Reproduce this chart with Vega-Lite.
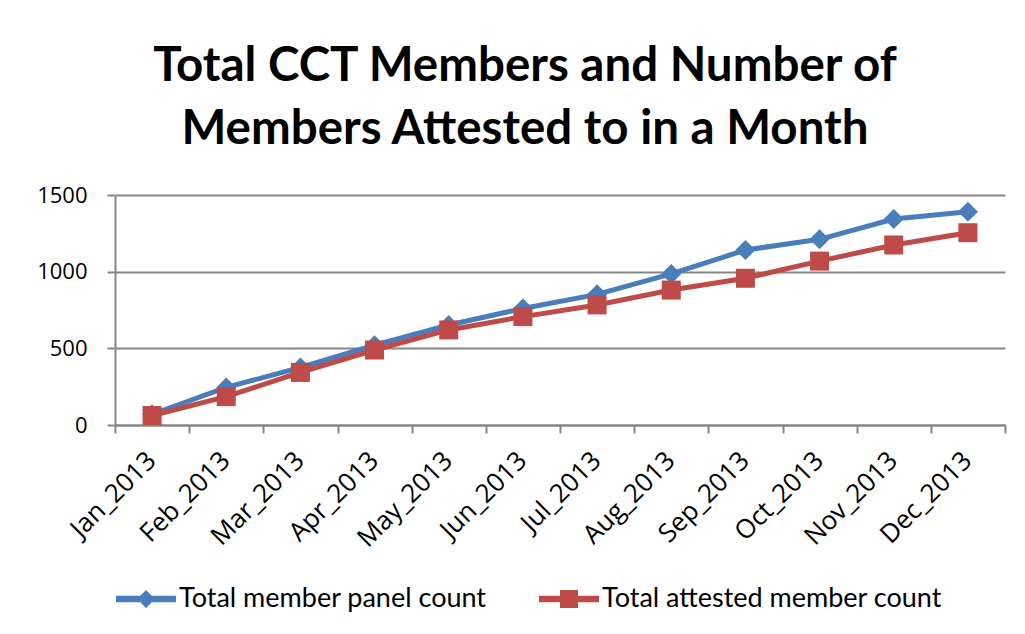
{
  "$schema": "https://vega.github.io/schema/vega-lite/v6.json",
  "width": 890,
  "height": 230,
  "autosize": {"type": "none"},
  "padding": {"left": 115, "top": 195, "right": 20, "bottom": 209},
  "background": "white",
  "title": {
    "text": ["Total CCT Members and Number of", "Members Attested to in a Month"],
    "font": "Lato",
    "fontSize": 47.5,
    "fontWeight": "bold",
    "lineHeight": 63,
    "color": "black",
    "anchor": "middle",
    "dx": -35,
    "offset": 31
  },
  "config": {
    "view": {"stroke": null},
    "axis": {
      "domainColor": "#868686",
      "domainWidth": 2,
      "gridColor": "#868686",
      "gridWidth": 2,
      "tickColor": "#868686",
      "tickWidth": 2,
      "tickSize": 8,
      "labelColor": "black",
      "labelFont": "Open Sans",
      "labelFontSize": 22,
      "title": null
    }
  },
  "data": {
    "values": [
      {"month": "Jan_2013", "series": "Total member panel count", "count": 70},
      {"month": "Feb_2013", "series": "Total member panel count", "count": 245},
      {"month": "Mar_2013", "series": "Total member panel count", "count": 375},
      {"month": "Apr_2013", "series": "Total member panel count", "count": 520},
      {"month": "May_2013", "series": "Total member panel count", "count": 652},
      {"month": "Jun_2013", "series": "Total member panel count", "count": 760},
      {"month": "Jul_2013", "series": "Total member panel count", "count": 852},
      {"month": "Aug_2013", "series": "Total member panel count", "count": 985},
      {"month": "Sep_2013", "series": "Total member panel count", "count": 1141},
      {"month": "Oct_2013", "series": "Total member panel count", "count": 1211},
      {"month": "Nov_2013", "series": "Total member panel count", "count": 1343},
      {"month": "Dec_2013", "series": "Total member panel count", "count": 1391},
      {"month": "Jan_2013", "series": "Total attested member count", "count": 62},
      {"month": "Feb_2013", "series": "Total attested member count", "count": 185},
      {"month": "Mar_2013", "series": "Total attested member count", "count": 343},
      {"month": "Apr_2013", "series": "Total attested member count", "count": 489},
      {"month": "May_2013", "series": "Total attested member count", "count": 620},
      {"month": "Jun_2013", "series": "Total attested member count", "count": 707},
      {"month": "Jul_2013", "series": "Total attested member count", "count": 783},
      {"month": "Aug_2013", "series": "Total attested member count", "count": 880},
      {"month": "Sep_2013", "series": "Total attested member count", "count": 957},
      {"month": "Oct_2013", "series": "Total attested member count", "count": 1069},
      {"month": "Nov_2013", "series": "Total attested member count", "count": 1174},
      {"month": "Dec_2013", "series": "Total attested member count", "count": 1254}
    ]
  },
  "encoding": {
    "x": {
      "field": "month",
      "type": "nominal",
      "sort": null,
      "scale": {"type": "band", "paddingInner": 0, "paddingOuter": 0},
      "axis": {"labelAngle": -45, "tickBand": "extent", "labelPadding": 14, "labelOffset": -10, "labelFontSize": 26, "grid": false}
    },
    "y": {
      "field": "count",
      "type": "quantitative",
      "scale": {"domain": [0, 1500], "nice": false},
      "axis": {"values": [0, 500, 1000, 1500], "format": "d", "labelPadding": 20, "grid": true}
    },
    "color": {
      "field": "series",
      "type": "nominal",
      "scale": {"domain": ["Total member panel count", "Total attested member count"], "range": ["#4A7EBB", "#BE4B48"]},
      "legend": null
    }
  },
  "layer": [
    {
      "mark": {"type": "line", "strokeWidth": 5}
    },
    {
      "mark": {"type": "point", "filled": true, "opacity": 1, "size": 400, "strokeWidth": 0},
      "encoding": {
        "shape": {
          "field": "series",
          "type": "nominal",
          "scale": {"domain": ["Total member panel count", "Total attested member count"], "range": ["M0,-1L1,0L0,1L-1,0Z", "M-0.95,-0.95H0.95V0.95H-0.95Z"]},
          "legend": null
        }
      }
    },
    {
      "transform": [{"filter": "false"}],
      "mark": {"type": "point", "filled": true, "opacity": 1, "strokeWidth": 0},
      "encoding": {
        "color": {
          "field": "series",
          "type": "nominal",
          "scale": {"domain": ["Total member panel count", "Total attested member count"], "range": ["#4A7EBB", "#BE4B48"]},
          "legend": {
            "title": null,
            "orient": "none",
            "direction": "horizontal",
            "legendX": 1,
            "legendY": 374,
            "symbolSize": 3600,
            "symbolStrokeWidth": 0,
            "symbolOpacity": 1,
            "labelFont": "Lato",
            "labelFontSize": 27,
            "labelColor": "black",
            "labelOffset": 3,
            "labelLimit": 500,
            "columnPadding": 52
          }
        },
        "shape": {
          "field": "series",
          "type": "nominal",
          "scale": {"domain": ["Total member panel count", "Total attested member count"], "range": ["M-1,-0.11H1V0.11H-1Z M0,-0.3L0.3,0L0,0.3L-0.3,0Z", "M-1,-0.11H1V0.11H-1Z M-0.3,-0.3H0.3V0.3H-0.3Z"]},
          "legend": {
            "title": null,
            "orient": "none",
            "direction": "horizontal",
            "legendX": 1,
            "legendY": 374,
            "symbolSize": 3600,
            "symbolStrokeWidth": 0,
            "symbolOpacity": 1,
            "labelFont": "Lato",
            "labelFontSize": 27,
            "labelColor": "black",
            "labelOffset": 3,
            "labelLimit": 500,
            "columnPadding": 52
          }
        }
      }
    }
  ],
  "resolve": {"scale": {"shape": "independent", "color": "independent"}, "legend": {"shape": "independent", "color": "independent"}}
}
